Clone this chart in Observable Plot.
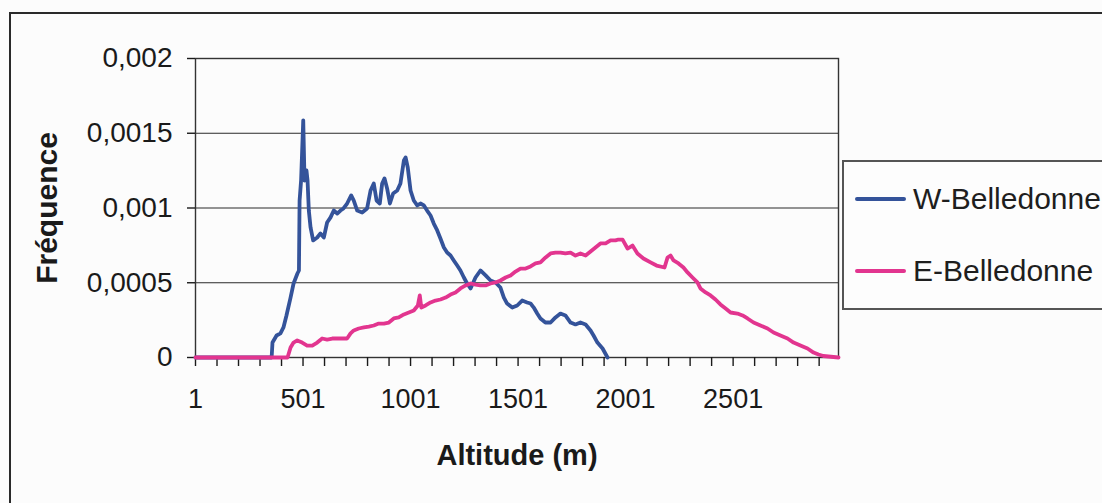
<!DOCTYPE html>
<html>
<head>
<meta charset="utf-8">
<script src="https://cdn.jsdelivr.net/npm/d3@7"></script>
<script src="https://cdn.jsdelivr.net/npm/@observablehq/plot@0.6"></script>
<style>
  body { margin: 0; background: #fcfcfc; }
  #wrap { position: relative; width: 1102px; height: 503px; overflow: hidden; background: #fcfcfc; }
  #outer { position: absolute; left: 9px; top: 12px; width: 1200px; height: 600px;
           border-left: 2px solid #2a2a2a; border-top: 2px solid #2a2a2a; pointer-events: none; }
  #legend { position: absolute; left: 842px; top: 160px; width: 300px; height: 146px;
            border: 2px solid #555; background: #fdfdfd;
            font-family: 'Liberation Sans', Arial, sans-serif; font-size: 30px; color: #1e1e1e; }
  .item { position: absolute; left: 0; height: 34px; display: flex; align-items: center; }
  .sw { width: 51px; height: 4px; margin-left: 11px; margin-right: 7px; border-radius: 2px; }
</style>
</head>
<body>
<div id="wrap">
  <div id="chart"></div>
  <div id="outer"></div>
  <div id="legend"></div>
</div>
<script>
// Series names and colours
const seriesNames = ["W-Belledonne", "E-Belledonne"];
const seriesColors = ["#34539a", "#e2358f"];

// W-Belledonne: altitude (m) and frequency
const altW = [1, 355, 359, 378, 396, 410, 424, 443, 457, 475,
  482, 485, 492, 502, 508, 517, 522, 528, 536, 548,
  567, 582, 598, 613, 629, 644, 660, 675, 689, 706,
  725, 737, 753, 776, 799, 815, 830, 843, 858, 869,
  880, 892, 905, 920, 939, 954, 970, 978, 988, 1001,
  1016, 1032, 1047, 1063, 1078, 1094, 1109, 1125, 1140, 1156,
  1171, 1187, 1202, 1218, 1233, 1249, 1264, 1280, 1303, 1326,
  1350, 1373, 1396, 1419, 1435, 1450, 1474, 1497, 1520, 1543,
  1559, 1574, 1590, 1605, 1628, 1652, 1675, 1698, 1721, 1745,
  1768, 1791, 1815, 1838, 1852, 1870, 1894, 1917];
const freqW = [0, 0, 0.0001, 0.000147, 0.000161, 0.000201, 0.000281, 0.000401, 0.000495, 0.000562,
  0.000582, 0.00105, 0.001184, 0.001586, 0.001184, 0.001251, 0.001184, 0.000983, 0.00087, 0.000783,
  0.000803, 0.00083, 0.000803, 0.000903, 0.000937, 0.000983, 0.000963, 0.000983, 0.000997, 0.00103,
  0.001084, 0.00105, 0.000983, 0.00097, 0.000997, 0.001117, 0.001164, 0.00105, 0.00103, 0.001164,
  0.001198, 0.001131, 0.00103, 0.001097, 0.001117, 0.001164, 0.001318, 0.001338, 0.001271, 0.001117,
  0.00105, 0.001017, 0.00103, 0.001017, 0.000983, 0.00095, 0.000896, 0.00085, 0.000796, 0.000736,
  0.000702, 0.000682, 0.000649, 0.000615, 0.000582, 0.000535, 0.000495, 0.000462, 0.000535, 0.000582,
  0.000549, 0.000515, 0.000502, 0.000468, 0.000401, 0.000361, 0.000334, 0.000348, 0.000381, 0.000368,
  0.000361, 0.000334, 0.000294, 0.000261, 0.000234, 0.000234, 0.000268, 0.000294, 0.000281, 0.000234,
  0.000221, 0.000234, 0.000221, 0.000181, 0.000147, 0.0001, 0.00006, 0];

// E-Belledonne: altitude (m) and frequency
const altE = [1, 429, 443, 457, 474, 497, 520, 544, 567, 590,
  613, 637, 660, 683, 706, 722, 737, 760, 784, 807,
  830, 853, 877, 900, 923, 946, 970, 993, 1016, 1035,
  1044, 1051, 1071, 1094, 1117, 1140, 1164, 1187, 1210, 1233,
  1257, 1280, 1303, 1326, 1350, 1373, 1396, 1419, 1443, 1466,
  1489, 1512, 1536, 1559, 1582, 1605, 1629, 1652, 1675, 1698,
  1721, 1745, 1768, 1791, 1815, 1838, 1861, 1884, 1908, 1931,
  1954, 1968, 1987, 2010, 2033, 2056, 2084, 2117, 2145, 2182,
  2196, 2210, 2224, 2247, 2270, 2289, 2312, 2335, 2349, 2373,
  2396, 2419, 2442, 2466, 2489, 2521, 2545, 2568, 2596, 2628,
  2661, 2689, 2721, 2754, 2782, 2814, 2847, 2875, 2898, 2921,
  2991];
const freqE = [0, 0, 0.000067, 0.0001, 0.000114, 0.0001, 0.00008, 0.00008, 0.0001, 0.000127,
  0.00012, 0.000127, 0.000127, 0.000127, 0.000127, 0.000161, 0.000181, 0.000194, 0.000201, 0.000207,
  0.000214, 0.000227, 0.000227, 0.000234, 0.000261, 0.000268, 0.000288, 0.000301, 0.000314, 0.000348,
  0.000415, 0.000334, 0.000348, 0.000368, 0.000381, 0.000388, 0.000401, 0.000421, 0.000435, 0.000462,
  0.000482, 0.000495, 0.000488, 0.000482, 0.000482, 0.000495, 0.000502, 0.000515, 0.000535, 0.000549,
  0.000575, 0.000595, 0.000595, 0.000609, 0.000629, 0.000636, 0.000669, 0.000696, 0.000702, 0.000702,
  0.000696, 0.000702, 0.000682, 0.000696, 0.000682, 0.000709, 0.000736, 0.000763, 0.000763, 0.000783,
  0.000783, 0.000789, 0.000789, 0.000729, 0.000749, 0.000696, 0.000662, 0.000636, 0.000615, 0.000602,
  0.000669, 0.000682, 0.000649, 0.000629, 0.000602, 0.000569, 0.000535, 0.000502, 0.000462, 0.000435,
  0.000415, 0.000388, 0.000355, 0.000328, 0.000301, 0.000294, 0.000281, 0.000261, 0.000234, 0.000214,
  0.000194, 0.000167, 0.000147, 0.000127, 0.0001, 0.00008, 0.00006, 0.000033, 0.00002, 0.00001,
  0];

// Axis ticks and labels
const yTicks = [0, 0.0005, 0.001, 0.0015, 0.002];
const xLabels = [1, 501, 1001, 1501, 2001, 2501];
const xTicks = d3.range(1, 2902, 100);
const xDomain = [1, 2991];

const dataW = altW.map((a, i) => ({alt: a, f: freqW[i]}));
const dataE = altE.map((a, i) => ({alt: a, f: freqE[i]}));

const chart = Plot.plot({
  width: 1102,
  height: 503,
  marginLeft: 195,
  marginRight: 264,
  marginTop: 58,
  marginBottom: 146,
  x: {domain: xDomain},
  y: {domain: [0, 0.002]},
  style: {background: "transparent", fontFamily: "'Liberation Sans', Arial, sans-serif", color: "#1a1a1a", overflow: "visible"},
  marks: [
    Plot.gridY(yTicks, {stroke: "#2a2a2a", strokeOpacity: 1, strokeWidth: 1.2}),
    Plot.frame({stroke: "#333", strokeWidth: 1.4}),
    Plot.axisY(yTicks, {tickSize: 8, tickPadding: 15, fontSize: 28, strokeWidth: 1.4,
      tickFormat: d => String(d).replace(".", ","), label: null}),
    Plot.axisX(xTicks, {tickSize: 9, tickPadding: 22, fontSize: 27, strokeWidth: 1.4,
      tickFormat: d => xLabels.includes(d) ? String(d) : "", label: null}),
    Plot.text(["Altitude (m)"], {text: d => d, frameAnchor: "bottom", textAnchor: "middle", lineAnchor: "middle",
      dy: 98, fontSize: 29, fontWeight: "bold"}),
    Plot.text(["Fréquence"], {text: d => d, frameAnchor: "left", textAnchor: "middle", lineAnchor: "middle",
      dx: -148, rotate: -90, fontSize: 30, fontWeight: "bold"}),
    Plot.line(dataW, {x: "alt", y: "f", stroke: seriesColors[0], strokeWidth: 3.8, strokeLinejoin: "round"}),
    Plot.line(dataE, {x: "alt", y: "f", stroke: seriesColors[1], strokeWidth: 3.8, strokeLinejoin: "round"})
  ]
});
document.getElementById("chart").appendChild(chart);

// Legend
const legend = document.getElementById("legend");
const rowTops = [20, 92];
seriesNames.forEach((name, i) => {
  const row = document.createElement("div");
  row.className = "item";
  row.style.top = rowTops[i] + "px";
  const sw = document.createElement("div");
  sw.className = "sw";
  sw.style.background = seriesColors[i];
  const label = document.createElement("span");
  label.textContent = name;
  row.appendChild(sw);
  row.appendChild(label);
  legend.appendChild(row);
});
</script>
</body>
</html>
